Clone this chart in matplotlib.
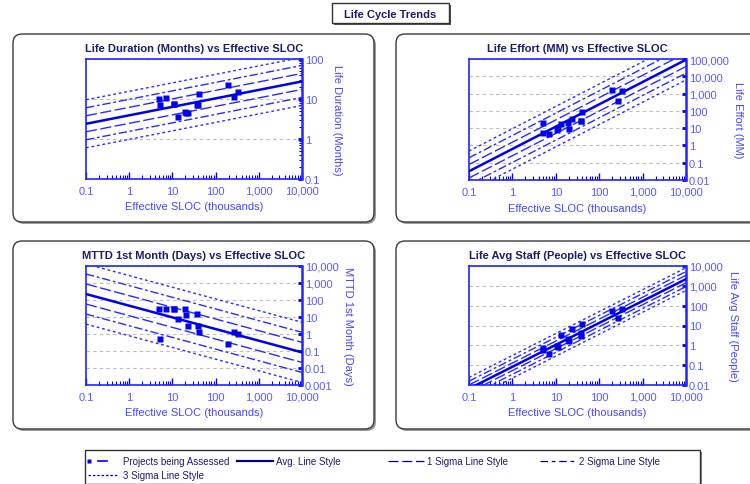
import numpy as np
import matplotlib.pyplot as plt
from matplotlib.patches import FancyBboxPatch, Rectangle
from matplotlib.ticker import FixedLocator, LogLocator, NullFormatter

plt.rcParams['font.family'] = ['Liberation Sans', 'DejaVu Sans']

W, H = 750, 485

# effective SLOC (thousands) of the projects being assessed
sloc = [5, 5.1, 7.1, 10.7, 11, 13.3, 19.6, 20.2, 23.5, 37.5, 39, 40.5, 198, 265, 335]

duration = [10, 7.1, 10.4, 7.4, 7.3, 3.6, 4.6, 4.5, 4.4, 7.0, 7.2, 13.6, 22.4, 11.2, 14.7]
effort = [21, 4.9, 4.3, 7.6, 10, 17.8, 19.5, 8.7, 33, 25, 27, 81, 1580, 350, 1390]
mttd = [28.6, 0.5, 30, 30, 30, 7.3, 28.6, 13.2, 2.8, 15, 3.1, 1.24, 0.25, 1.4, 1.0]
staff = [0.7, 0.58, 0.36, 0.92, 0.8, 3.5, 2.0, 1.6, 6.3, 3.0, 4.3, 11.7, 53, 24.5, 66]

# trend: average value at SLOC 0.1 and 10,000, and one sigma (log10 units)
trend_lo = [2.4, 0.032, 225, 0.0065]
trend_hi = [27.5, 91000, 0.083, 2190]
sigma = [0.2, 0.39, 0.59, 0.19]

titles = ['Life Duration (Months) vs Effective SLOC',
          'Life Effort (MM) vs Effective SLOC',
          'MTTD 1st Month (Days) vs Effective SLOC',
          'Life Avg Staff (People) vs Effective SLOC']
ylabels = ['Life Duration (Months)', 'Life Effort (MM)',
           'MTTD 1st Month (Days)', 'Life Avg Staff (People)']
ylims = [(0.1, 100), (0.01, 100000), (0.001, 10000), (0.01, 10000)]

x_ticks = [0.1, 1, 10, 100, 1000, 10000]
x_ticklabels = ['0.1', '1', '10', '100', '1,000', '10,000']

NAVY = '#1c1c6e'
BLUE = '#0000f0'
SIG = '#2a2aff'
TICK = '#5a5aff'
LABEL = '#4646ff'


def px_rect(x0, y0, x1, y1):
    return [x0 / W, 1 - y1 / H, (x1 - x0) / W, (y1 - y0) / H]


def fmt(v):
    return f'{v:,.0f}' if v >= 1 else f'{v:g}'


fig = plt.figure(figsize=(W / 100, H / 100), dpi=100)
fig.patch.set_facecolor('white')

bg = fig.add_axes([0, 0, 1, 1], zorder=0)
bg.set_xlim(0, W)
bg.set_ylim(H, 0)
bg.axis('off')

# rounded panel frames with drop shadow
frames = [(13, 35, 374, 223), (396, 35, 780, 223),
          (13, 242, 374, 430), (396, 242, 780, 430)]
for x0, y0, x1, y1 in frames:
    bg.add_patch(FancyBboxPatch((x0 + 2, y0 + 2), x1 - x0, y1 - y0,
                                boxstyle='round,pad=0,rounding_size=9',
                                fc='#9c9c9c', ec='none'))
    bg.add_patch(FancyBboxPatch((x0, y0), x1 - x0, y1 - y0,
                                boxstyle='round,pad=0,rounding_size=9',
                                fc='white', ec='#3a3a3a', lw=1))

# main title box
bg.add_patch(Rectangle((334, 6), 117, 20, fc='#555555', ec='none'))
bg.add_patch(Rectangle((332, 4), 117, 20, fc='white', ec='#333333', lw=1))
bg.text(390.5, 14.5, 'Life Cycle Trends', ha='center', va='center',
        fontsize=8, fontweight='bold', color=NAVY)

# legend box
bg.add_patch(Rectangle((87, 453), 615, 34, fc='#8a8a8a', ec='none'))
bg.add_patch(Rectangle((85, 451), 615, 34, fc='white', ec='#333333', lw=1))

axes_px = [(86, 60, 302, 180), (469, 60, 686, 181),
           (86, 267, 302, 386), (469, 267, 686, 386)]
label_x = [1.162, 1.238, 1.213, 1.215]
series = [duration, effort, mttd, staff]

sig_styles = {1: (0, (8, 2.5)), 2: (0, (6, 2, 2, 2)), 3: (0, (2, 2))}
x_ends = np.array([0.1, 10000])

for i in range(4):
    ax = fig.add_axes(px_rect(*axes_px[i]), zorder=2)
    ax.set_xscale('log')
    ax.set_yscale('log')
    ax.set_xlim(0.1, 10000)
    ax.set_ylim(*ylims[i])

    avg = np.array([trend_lo[i], trend_hi[i]])
    for k in (1, 2, 3):
        for sgn in (-1, 1):
            ax.plot(x_ends, avg * 10 ** (sgn * k * sigma[i]), color=SIG,
                    lw=1, ls=sig_styles[k], zorder=3)
    ax.plot(x_ends, avg, color=BLUE, lw=1.8, zorder=4)
    ax.plot(sloc, series[i], 's', color=BLUE, ms=4.5, mec='none', zorder=5)

    ax.yaxis.grid(True, which='major', color='#bdbdbd', ls=(0, (3, 3)), lw=0.8)
    ax.set_axisbelow(True)

    ax.xaxis.set_major_locator(FixedLocator(x_ticks))
    ax.set_xticklabels(x_ticklabels)
    ax.xaxis.set_minor_locator(LogLocator(base=10, subs=np.arange(2, 10)))
    ax.xaxis.set_minor_formatter(NullFormatter())

    lo, hi = ylims[i]
    y_ticks = [10.0 ** e for e in range(int(round(np.log10(lo))), int(round(np.log10(hi))) + 1)]
    ax.yaxis.set_major_locator(FixedLocator(y_ticks))
    ax.set_yticklabels([fmt(v) for v in y_ticks])
    ax.yaxis.set_minor_locator(LogLocator(base=10, subs=np.arange(2, 10)))
    ax.yaxis.set_minor_formatter(NullFormatter())
    ax.yaxis.tick_right()

    ax.tick_params(which='both', direction='in', colors=BLUE,
                   labelcolor=TICK, labelsize=8)
    ax.tick_params(axis='x', which='major', length=5, width=1, pad=5)
    ax.tick_params(axis='x', which='minor', length=3, width=0.8)
    ax.tick_params(axis='y', which='major', length=3, width=2, pad=2)
    ax.tick_params(axis='y', which='minor', length=2.5, width=0.8)

    for side, sp in ax.spines.items():
        sp.set_color('#2424ff')
        sp.set_linewidth(1.8 if side == 'right' else 1.2)

    ax.set_title(titles[i], fontsize=8, fontweight='bold', color=NAVY, pad=6)
    ax.set_xlabel('Effective SLOC (thousands)', fontsize=8, color=LABEL, labelpad=4)
    ax.text(label_x[i], 0.5, ylabels[i], transform=ax.transAxes, rotation=270,
            ha='center', va='center', fontsize=8, color=LABEL, clip_on=False)

# legend samples
ly1, ly2 = 462, 476
bg.plot([89], [ly1], 's', color=BLUE, ms=3.5, mec='none')
bg.plot([98, 107], [ly1, ly1], color=BLUE, lw=1.2)
bg.text(123, ly1, 'Projects being Assessed', va='center', fontsize=7, color=NAVY)
bg.plot([237, 273], [ly1, ly1], color='#00008b', lw=1.6)
bg.text(276, ly1, 'Avg. Line Style', va='center', fontsize=7, color=NAVY)
bg.plot([388, 424], [ly1, ly1], color='#00008b', lw=0.9, ls=(0, (8, 3)))
bg.text(427, ly1, '1 Sigma Line Style', va='center', fontsize=7, color=NAVY)
bg.plot([540, 574], [ly1, ly1], color='#00008b', lw=0.9, ls=(0, (6, 3, 3, 3)))
bg.text(579, ly1, '2 Sigma Line Style', va='center', fontsize=7, color=NAVY)
bg.plot([88, 118], [ly2, ly2], color='#00008b', lw=0.9, ls=(0, (2, 1.5)))
bg.text(123, ly2, '3 Sigma Line Style', va='center', fontsize=7, color=NAVY)

fig.savefig('out.png', dpi=100, facecolor='white')
